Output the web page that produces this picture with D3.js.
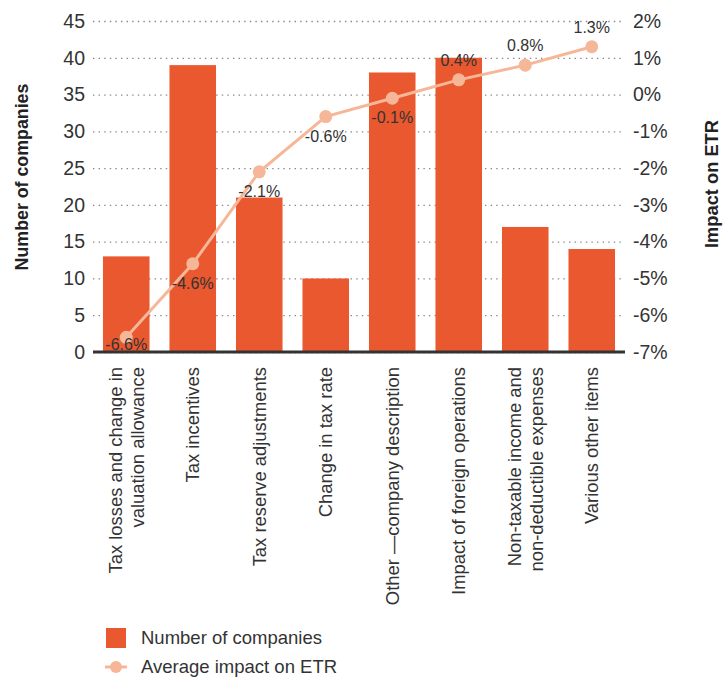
<!DOCTYPE html>
<html>
<head>
<meta charset="utf-8">
<script src="https://cdn.jsdelivr.net/npm/d3@7"></script>
<style>
  body { margin: 0; background: #fff; }
  svg { display: block; font-family: "Liberation Sans", Arial, Helvetica, sans-serif; }
</style>
</head>
<body>
<svg id="chart" width="724" height="677"></svg>
<script>
const categories = [
  "Tax losses and change in\nvaluation allowance",
  "Tax incentives",
  "Tax reserve adjustments",
  "Change in tax rate",
  "Other \u2014company description",
  "Impact of foreign operations",
  "Non-taxable income and\nnon-deductible expenses",
  "Various other items"
];
const companies = [13, 39, 21, 10, 38, 40, 17, 14];
const etrImpact = [-6.6, -4.6, -2.1, -0.6, -0.1, 0.4, 0.8, 1.3];
const leftTicks = [0, 5, 10, 15, 20, 25, 30, 35, 40, 45];
const rightTicks = [-7, -6, -5, -4, -3, -2, -1, 0, 1, 2];
const legendLabels = ["Number of companies", "Average impact on ETR"];
const axisTitles = ["Number of companies", "Impact on ETR"];

const barColor = "#E9582F";
const lineColor = "#F6B799";
const textColor = "#333";

const svg = d3.select("#chart");
const pLeft = 93, pRight = 625, pTop = 21, pBottom = 352;

const x = d3.scaleBand().domain(categories).range([pLeft, pRight]).paddingInner(0.3).paddingOuter(0.15);
const yL = d3.scaleLinear().domain([0, 45]).range([pBottom, pTop]);
const yR = d3.scaleLinear().domain([-7, 2]).range([pBottom, pTop]);

// left axis with dotted gridlines
const gL = svg.append("g").attr("transform", `translate(${pLeft},0)`)
  .call(d3.axisLeft(yL).tickValues(leftTicks).tickSize(-(pRight - pLeft)).tickPadding(8));
gL.select(".domain").remove();
gL.selectAll(".tick line").attr("stroke", "#888").attr("stroke-width", 1.3).attr("stroke-dasharray", "1.4,4.2");
gL.selectAll(".tick text").attr("font-size", "19.5px").attr("fill", textColor);
gL.attr("font-family", null);

// right axis
const gR = svg.append("g").attr("transform", `translate(${pRight},0)`)
  .call(d3.axisRight(yR).tickValues(rightTicks).tickSize(0).tickPadding(8).tickFormat(d => d + "%"));
gR.select(".domain").remove();
gR.selectAll(".tick text").attr("font-size", "19.5px").attr("fill", textColor);
gR.attr("font-family", null);

// bars
svg.append("g").selectAll("rect").data(categories).join("rect")
  .attr("x", d => x(d))
  .attr("width", x.bandwidth())
  .attr("y", (d, i) => yL(companies[i]))
  .attr("height", (d, i) => yL(0) - yL(companies[i]))
  .attr("fill", barColor);

// baseline / x axis
const gX = svg.append("g").attr("transform", `translate(0,${pBottom})`)
  .call(d3.axisBottom(x).tickSize(0).tickFormat(""));
gX.attr("font-family", null);
gX.select(".domain").attr("stroke", "#333").attr("stroke-width", 3).attr("d", `M${pLeft},0H${pRight}`);
gX.selectAll(".tick").each(function(d) {
  const lines = d.split("\n");
  const t = d3.select(this).append("text")
    .attr("transform", "translate(0,15) rotate(-90)")
    .attr("text-anchor", "end")
    .attr("fill", textColor)
    .attr("font-size", "18.4px");
  const lh = 1.2;
  const start = 0.35 - (lines.length - 1) * lh / 2;
  lines.forEach((ln, j) => {
    t.append("tspan").attr("x", 0).attr("dy", (j === 0 ? start : lh) + "em").text(ln);
  });
});

// line
const cx = d => x(d) + x.bandwidth() / 2;
const line = d3.line().x((d, i) => cx(categories[i])).y(d => yR(d));
svg.append("path").datum(etrImpact)
  .attr("d", line).attr("fill", "none").attr("stroke", lineColor).attr("stroke-width", 3);
svg.append("g").selectAll("circle").data(etrImpact).join("circle")
  .attr("cx", (d, i) => cx(categories[i])).attr("cy", d => yR(d)).attr("r", 6.5).attr("fill", lineColor);

// point labels
svg.append("g").selectAll("text").data(etrImpact).join("text")
  .attr("x", (d, i) => cx(categories[i]))
  .attr("y", d => d < 0 ? Math.min(yR(d) + 25, pBottom - 2) : yR(d) - 14)
  .attr("text-anchor", "middle")
  .attr("font-size", "16px")
  .attr("fill", textColor)
  .text(d => d.toFixed(1) + "%");

// axis titles
svg.append("text").attr("transform", `translate(28,177) rotate(-90)`)
  .attr("text-anchor", "middle").attr("font-weight", "bold").attr("font-size", "17.8px").attr("fill", "#222")
  .text(axisTitles[0]);
svg.append("text").attr("transform", `translate(718,184) rotate(-90)`)
  .attr("text-anchor", "middle").attr("font-weight", "bold").attr("font-size", "18.3px").attr("fill", "#222")
  .text(axisTitles[1]);

// legend
const lg = svg.append("g");
lg.append("rect").attr("x", 106).attr("y", 628).attr("width", 20).attr("height", 20).attr("fill", barColor);
lg.append("line").attr("x1", 105).attr("x2", 127).attr("y1", 667).attr("y2", 667).attr("stroke", lineColor).attr("stroke-width", 3);
lg.append("circle").attr("cx", 116).attr("cy", 667).attr("r", 6).attr("fill", lineColor);
lg.selectAll("text.lbl").data(legendLabels).join("text")
  .attr("x", 141).attr("y", (d, i) => 638 + i * 29).attr("dy", "0.35em")
  .attr("font-size", "18.5px").attr("fill", textColor).text(d => d);
</script>
</body>
</html>
